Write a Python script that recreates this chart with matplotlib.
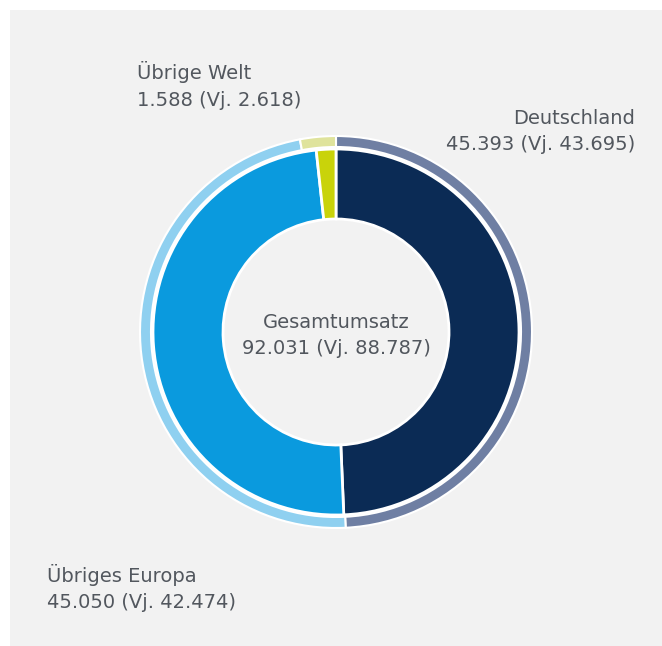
import matplotlib.pyplot as plt
from matplotlib.patches import Rectangle

# Umsatz nach Regionen (Mio. EUR), aktuelles Jahr und Vorjahr
regions = ['Deutschland', 'Übriges Europa', 'Übrige Welt']
umsatz = [45.393, 45.050, 1.588]
vorjahr = [43.695, 42.474, 2.618]
label_werte = ['45.393', '45.050', '1.588']
label_vj = ['43.695', '42.474', '2.618']
gesamt = '92.031'
gesamt_vj = '88.787'

colors_main = ['#0b2b55', '#0a9ade', '#c9d30a']
colors_ring = ['#6f7fa3', '#8fd0f0', '#dfe39c']
text_color = '#52575e'

W, H = 662, 646
fig = plt.figure(figsize=(W / 100, H / 100), dpi=100)
fig.patch.set_facecolor('white')
ax = fig.add_axes([0, 0, 1, 1])

# grey panel (white margin only at top and left)
ax.add_patch(Rectangle((10, -20), W + 20, H - 10 + 20, facecolor='#f2f2f2',
                       edgecolor='none', zorder=0))

cx, cy = 336, H - 332

# outer thin ring: previous year
ax.pie(vorjahr, colors=colors_ring, startangle=90, counterclock=False,
       radius=196, center=(cx, cy), frame=True,
       wedgeprops=dict(width=11, edgecolor='white', linewidth=1.5))

# main ring: current year
ax.pie(umsatz, colors=colors_main, startangle=90, counterclock=False,
       radius=183, center=(cx, cy), frame=True,
       wedgeprops=dict(width=70, edgecolor='white', linewidth=2))

ax.set_xlim(0, W)
ax.set_ylim(0, H)
ax.set_aspect('equal')
ax.axis('off')

fs = 14
ax.text(cx, H - 322, 'Gesamtumsatz', ha='center', va='center',
        fontsize=fs, color=text_color)
ax.text(cx, H - 348, f'{gesamt} (Vj. {gesamt_vj})', ha='center', va='center',
        fontsize=fs, color=text_color)

# Deutschland
ax.text(635, H - 118, regions[0], ha='right', va='center', fontsize=fs, color=text_color)
ax.text(635, H - 145, f'{label_werte[0]} (Vj. {label_vj[0]})', ha='right', va='center',
        fontsize=fs, color=text_color)
# Übriges Europa
ax.text(47, H - 575, regions[1], ha='left', va='center', fontsize=fs, color=text_color)
ax.text(47, H - 603, f'{label_werte[1]} (Vj. {label_vj[1]})', ha='left', va='center',
        fontsize=fs, color=text_color)
# Übrige Welt
ax.text(137, H - 72, regions[2], ha='left', va='center', fontsize=fs, color=text_color)
ax.text(137, H - 100, f'{label_werte[2]} (Vj. {label_vj[2]})', ha='left', va='center',
        fontsize=fs, color=text_color)

fig.savefig('out.png', dpi=100, facecolor='white')
